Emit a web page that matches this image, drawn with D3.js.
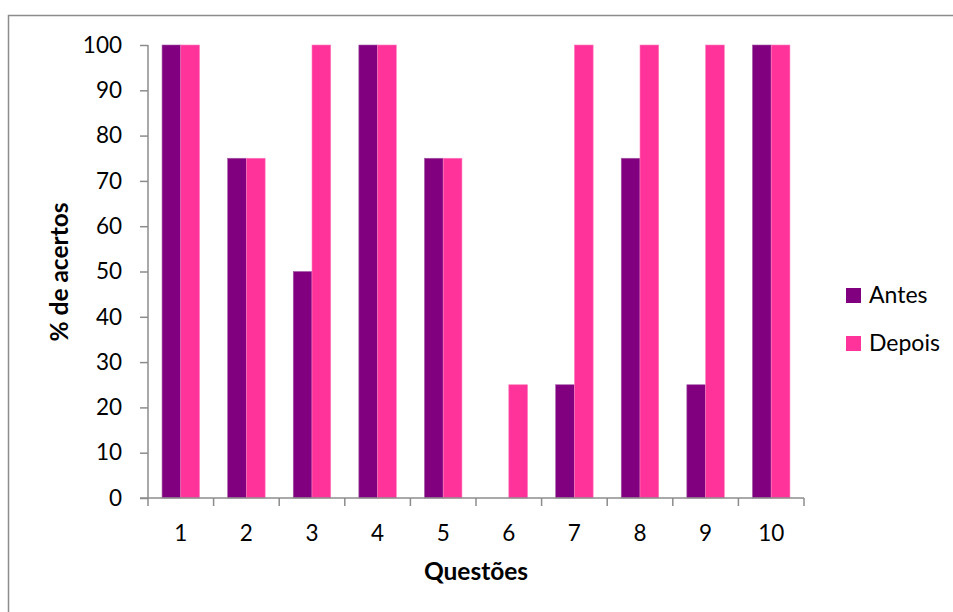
<!DOCTYPE html>
<html><head><meta charset="utf-8">
<script src="https://cdn.jsdelivr.net/npm/d3@7"></script>
<style>body{margin:0;background:#fff}svg{display:block}text{font-family:Lato,"Open Sans",sans-serif}</style>
</head><body><svg id="c" width="953" height="612"></svg>
<script>
const categories = ["1","2","3","4","5","6","7","8","9","10"];
const antes  = [100,75,50,100,75,0,25,75,25,100];
const depois = [100,75,100,100,75,25,100,100,100,100];
const seriesNames = ["Antes","Depois"];
const colors = ["#800080","#FF3399"];
const yTicks = [0,10,20,30,40,50,60,70,80,90,100];

(function(){
const svg = d3.select("#c");
const pL = 148, pR = 804, pT = 45, pB = 498;
const axisColor = "#8c8c8c";
const fs = 22.5;

// outer border
svg.append("path").attr("d","M8.5,612 V15.5 H953").attr("fill","none").attr("stroke","#8c8c8c").attr("stroke-width",1.5);

const x = d3.scaleBand().domain(categories).range([pL,pR]).paddingInner(0).paddingOuter(0);
const groupW = x.bandwidth()/1.75;
const xs = d3.scaleBand().domain(seriesNames).range([0,groupW]);
const y = d3.scaleLinear().domain([0,100]).range([pB,pT]);

const data = categories.map((c,i)=>({c, vals:[antes[i],depois[i]]}));
const g = svg.append("g");
data.forEach(d=>{
  d.vals.forEach((v,j)=>{
    if(v<=0) return;
    g.append("rect")
      .attr("x", x(d.c) + (x.bandwidth()-groupW)/2 + xs(seriesNames[j]))
      .attr("y", y(v))
      .attr("width", xs.bandwidth())
      .attr("height", y(0)-y(v))
      .attr("fill", colors[j])
      .attr("stroke", j===0 ? "#a45aa4" : "#ff7fbf")
      .attr("stroke-width", 0.6);
  });
});

// y axis
const yAxis = svg.append("g").attr("transform",`translate(${pL},0)`)
  .call(d3.axisLeft(y).tickValues(yTicks).tickSize(8).tickPadding(18));
yAxis.selectAll("line,path").attr("stroke",axisColor).attr("stroke-width",1.5);
yAxis.select(".domain").attr("d",`M0,${pB}V${pT}`);
yAxis.selectAll("text").attr("font-size",fs).attr("fill","#000").attr("font-family","Lato");

// x axis with tick marks at band boundaries
const xAxisG = svg.append("g").attr("transform",`translate(0,${pB})`);
xAxisG.append("line").attr("x1",pL-8).attr("x2",pR).attr("y1",0).attr("y2",0).attr("stroke",axisColor).attr("stroke-width",1.5);
const bounds = categories.map(c=>x(c)).concat([pR]);
xAxisG.selectAll("line.t").data(bounds).enter().append("line").attr("class","t")
  .attr("x1",d=>d).attr("x2",d=>d).attr("y1",0).attr("y2",8).attr("stroke",axisColor).attr("stroke-width",1.5);
xAxisG.selectAll("text").data(categories).enter().append("text")
  .attr("x",d=>x(d)+x.bandwidth()/2).attr("y",43).attr("text-anchor","middle")
  .attr("font-size",fs).attr("fill","#000").text(d=>d);

// axis titles
svg.append("text").attr("x",476).attr("y",580).attr("text-anchor","middle")
  .attr("font-size",24.5).attr("font-weight","bold").text("Questões");
svg.append("text").attr("transform","translate(68,272) rotate(-90)").attr("text-anchor","middle")
  .attr("font-size",24.5).attr("font-weight","bold").text("% de acertos");

// legend
const lg = svg.append("g");
seriesNames.forEach((n,i)=>{
  const yy = 288 + i*48;
  lg.append("rect").attr("x",846).attr("y",yy).attr("width",15).attr("height",15).attr("fill",colors[i]);
  lg.append("text").attr("x",869).attr("y",yy+15).attr("font-size",23).attr("fill","#000").text(n);
});
})();
</script></body></html>
